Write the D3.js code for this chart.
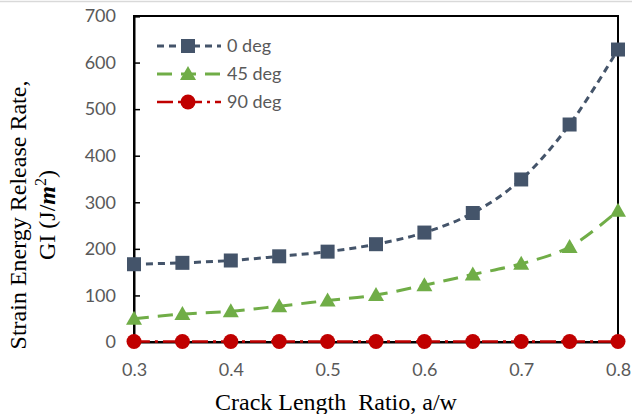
<!DOCTYPE html>
<html>
<head>
<meta charset="utf-8">
<script src="https://cdn.jsdelivr.net/npm/d3@7"></script>
<style>
  body { margin: 0; background: #fff; }
  svg { display: block; }
</style>
</head>
<body>
<div class="canvas"></div>
<script>
const ratios = [0.3, 0.35, 0.4, 0.45, 0.5, 0.55, 0.6, 0.65, 0.7, 0.75, 0.8];
const g0deg = [167, 170, 175, 184, 194, 210, 235, 277, 349, 467, 628];
const g45deg = [50, 60, 66, 77, 89, 101, 122, 145, 168, 204, 282];
const g90deg = [1, 1, 1, 1, 1, 1, 1, 1, 1, 1, 1];
const seriesNames = ['0 deg', '45 deg', '90 deg'];
const xTicks = [0.3, 0.4, 0.5, 0.6, 0.7, 0.8];
const yTicks = [0, 100, 200, 300, 400, 500, 600, 700];

const series = [
  { name: seriesNames[0], values: g0deg, color: '#44546A', dash: '7,5', width: 3, shape: 'square' },
  { name: seriesNames[1], values: g45deg, color: '#70AD47', dash: '15,9', width: 3, shape: 'triangle' },
  { name: seriesNames[2], values: g90deg, color: '#C00000', dash: '16,5,3,5', width: 2.5, shape: 'circle' },
];

const svg = d3.select('.canvas')
  .append('svg')
  .attr('width', 632)
  .attr('height', 414);

// thin grey border line at the top of the picture
svg.append('line')
  .attr('x1', 0).attr('x2', 632).attr('y1', 1.5).attr('y2', 1.5)
  .attr('stroke', '#d9d9d9').attr('stroke-width', 1.5);

const margin = { left: 134, top: 16 };
const width = 484, height = 326;

const graph = svg.append('g')
  .attr('transform', `translate(${margin.left}, ${margin.top})`);

const x = d3.scaleLinear().domain([0.3, 0.8]).range([0, width]);
const y = d3.scaleLinear().domain([0, 700]).range([height, 0]);

const tickFont = 'Lato, "Open Sans", sans-serif';

// frame
graph.append('rect')
  .attr('width', width).attr('height', height)
  .attr('fill', 'none').attr('stroke', '#000').attr('stroke-width', 2);

// y axis
const yAxis = graph.append('g')
  .call(d3.axisLeft(y).tickValues(yTicks).tickSize(-6).tickPadding(18));
yAxis.select('.domain').attr('stroke-width', 2);
yAxis.selectAll('.tick line').attr('stroke-width', 1.5);
yAxis.selectAll('text')
  .attr('font-family', tickFont).attr('font-size', 18).attr('fill', '#595959');

// x axis
const xAxis = graph.append('g')
  .attr('transform', `translate(0, ${height})`)
  .call(d3.axisBottom(x).tickValues(xTicks).tickFormat(d3.format('.1f')).tickSize(6).tickPadding(15));
xAxis.select('.domain').attr('stroke-width', 2);
xAxis.selectAll('.tick line').attr('stroke-width', 1.5);
xAxis.selectAll('text')
  .attr('font-family', tickFont).attr('font-size', 18).attr('fill', '#595959');

const line = d3.line()
  .x((d, i) => x(ratios[i]))
  .y(d => y(d))
  .curve(d3.curveCatmullRom.alpha(0.5));

function marker(sel, shape, color) {
  if (shape === 'square') {
    sel.append('rect').attr('x', -7).attr('y', -7).attr('width', 14).attr('height', 14).attr('fill', color);
  } else if (shape === 'triangle') {
    sel.append('path').attr('d', 'M0,-8L8,6L-8,6Z').attr('fill', color);
  } else {
    sel.append('circle').attr('r', 7.5).attr('fill', color);
  }
}

series.forEach(s => {
  graph.append('path')
    .datum(s.values)
    .attr('d', line)
    .attr('fill', 'none')
    .attr('stroke', s.color)
    .attr('stroke-width', s.width)
    .attr('stroke-dasharray', s.dash);

  s.values.forEach((v, i) => {
    const m = graph.append('g').attr('transform', `translate(${x(ratios[i])}, ${y(v)})`);
    marker(m, s.shape, s.color);
  });
});

// legend
const legend = svg.append('g');
series.forEach((s, i) => {
  const ly = 46 + i * 28;
  legend.append('line')
    .attr('x1', 157).attr('x2', 221).attr('y1', ly).attr('y2', ly)
    .attr('stroke', s.color).attr('stroke-width', s.width)
    .attr('stroke-dasharray', s.dash);
  const m = legend.append('g').attr('transform', `translate(188, ${ly})`);
  marker(m, s.shape, s.color);
  legend.append('text')
    .attr('x', 227).attr('y', ly).attr('dy', '0.35em')
    .attr('font-family', tickFont).attr('font-size', 18).attr('fill', '#595959')
    .text(s.name);
});

// axis titles
const titleFont = '"Liberation Serif", "Times New Roman", serif';
svg.append('text')
  .attr('x', 215).attr('y', 410)
  .attr('font-family', titleFont).attr('font-size', 24)
  .style('white-space', 'pre')
  .text('Crack Length  Ratio, a/w');

const yTitle = svg.append('text')
  .attr('transform', 'translate(26, 215) rotate(-90)')
  .attr('text-anchor', 'middle')
  .attr('font-family', titleFont).attr('font-size', 24);
yTitle.append('tspan').attr('x', 0).attr('y', 0).text('Strain Energy Release Rate,');
const l2 = yTitle.append('tspan').attr('x', 0).attr('y', 29);
l2.append('tspan').text('GI (J/');
l2.append('tspan').attr('font-weight', 'bold').attr('font-style', 'italic').text('m');
l2.append('tspan').attr('font-size', 16).attr('dy', -9).text('2');
l2.append('tspan').attr('dy', 9).text(')');
</script>
</body>
</html>
